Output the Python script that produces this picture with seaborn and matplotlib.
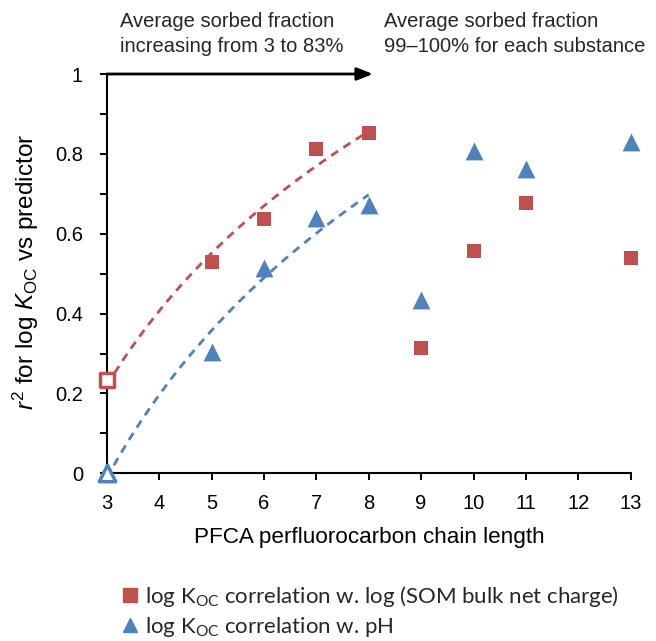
import numpy as np
import pandas as pd
import matplotlib
matplotlib.use("Agg")
import matplotlib.pyplot as plt
import seaborn as sns

# ---- data ----
chain_length = [3, 5, 6, 7, 8, 9, 10, 11, 13]
r2_som_charge = [0.234, 0.528, 0.638, 0.813, 0.853, 0.314, 0.556, 0.678, 0.539]
r2_ph = [0.0, 0.305, 0.515, 0.640, 0.673, 0.435, 0.807, 0.761, 0.830]
trend_max_x = 8           # trend lines fitted on chain lengths 3..8
open_point_x = 3          # marker drawn hollow
x_ticks = [3, 4, 5, 6, 7, 8, 9, 10, 11, 12, 13]
y_ticks = [0, 0.2, 0.4, 0.6, 0.8, 1.0]
y_tick_labels = ["0", "0.2", "0.4", "0.6", "0.8", "1"]
note_left = ["Average sorbed fraction", "increasing from 3 to 83%"]
note_right = ["Average sorbed fraction", "99\u2013100% for each substance"]

RED = "#C0504D"
BLUE = "#4F81BD"

sns.set_theme(style="white")
plt.rcParams["font.family"] = ["Liberation Sans", "DejaVu Sans"]
plt.rcParams["mathtext.fontset"] = "custom"
plt.rcParams["mathtext.rm"] = "Liberation Sans"
plt.rcParams["mathtext.it"] = "Liberation Sans:italic"
plt.rcParams["mathtext.sf"] = "Lato"

df = pd.DataFrame({"x": chain_length, "som": r2_som_charge, "ph": r2_ph})
fit = df[df["x"] <= trend_max_x]
solid = df[df["x"] != open_point_x]
hollow = df[df["x"] == open_point_x]

W, H = 656, 641
fig = plt.figure(figsize=(W / 100, H / 100), dpi=100)
x0, x1, y0, y1 = 106.7, 630.7, 473.3, 74.0
ax = fig.add_axes([x0 / W, 1 - y0 / H, (x1 - x0) / W, (y0 - y1) / H])

# trend lines (log fit)
dash = (0, (3.0, 2.3))
sns.regplot(data=fit, x="x", y="som", logx=True, ci=None, scatter=False, truncate=True,
            ax=ax, line_kws=dict(color=RED, ls=dash, lw=2.0))
sns.regplot(data=fit, x="x", y="ph", logx=True, ci=None, scatter=False, truncate=True,
            ax=ax, line_kws=dict(color=BLUE, ls=dash, lw=2.0))

# points
sns.scatterplot(data=solid, x="x", y="som", marker="s", s=115, color=RED,
                edgecolor=RED, linewidth=0, ax=ax, clip_on=False, zorder=4)
sns.scatterplot(data=solid, x="x", y="ph", marker="^", s=165, color=BLUE,
                edgecolor=BLUE, linewidth=0, ax=ax, clip_on=False, zorder=4)
sns.scatterplot(data=hollow, x="x", y="som", marker="s", s=100, facecolor="white",
                edgecolor=RED, linewidth=2.5, ax=ax, clip_on=False, zorder=5)
sns.scatterplot(data=hollow, x="x", y="ph", marker="^", s=140, facecolor="white",
                edgecolor=BLUE, linewidth=2.5, ax=ax, clip_on=False, zorder=5)

ax.set_xlim(3, 13)
ax.set_ylim(0, 1)
ax.set_xticks(x_ticks)
ax.set_xticklabels([str(v) for v in x_ticks])
ax.set_yticks(y_ticks)
ax.set_yticklabels(y_tick_labels)
ax.set_yticks([0.1, 0.3, 0.5, 0.7, 0.9], minor=True)
ax.tick_params(axis="both", which="both", direction="out", length=5, width=1.4,
               color="black", labelsize=14.5, labelcolor="black")
ax.tick_params(axis="y", which="major", pad=12)
ax.tick_params(axis="x", which="major", pad=10)
ax.tick_params(axis="x", bottom=True)
ax.tick_params(axis="y", which="both", left=True)
for side in ["top", "right"]:
    ax.spines[side].set_visible(False)
for side in ["left", "bottom"]:
    ax.spines[side].set_color("black")
    ax.spines[side].set_linewidth(1.5)

ax.set_xlabel("PFCA perfluorocarbon chain length", fontsize=16.2, color="black")
ax.xaxis.set_label_coords(((193 + 545) / 2 - x0) / (x1 - x0), -(537.5 - y0) / (y0 - y1))
ax.xaxis.label.set_va("center")
ax.set_ylabel(r"$\mathit{r}^2$ for log $\mathit{K}_{\mathrm{OC}}$ vs predictor",
              fontsize=17.5, color="black")
ax.yaxis.set_label_coords(-(x0 - 26) / (x1 - x0), ((y0 - 272) / (y0 - y1)))
ax.yaxis.label.set_va("center")

# arrow along the top
ax.annotate("", xy=(8.08, 1.0), xytext=(3.0, 1.0), xycoords="data",
            arrowprops=dict(arrowstyle="-|>,head_length=0.8,head_width=0.32",
                            color="black", lw=2.0, shrinkA=0, shrinkB=0),
            annotation_clip=False)

for i, (a, b) in enumerate(zip(note_left, note_right)):
    yy = 1 - (21.7 + 25 * i) / H
    fig.text(120 / W, yy, a, fontsize=14.5, va="center", ha="left")
    fig.text(384 / W, yy, b, fontsize=14.5, va="center", ha="left")

# legend
handles = [
    plt.Line2D([], [], marker="s", ls="", color=RED, markersize=9.5),
    plt.Line2D([], [], marker="^", ls="", color=BLUE, markersize=10.5),
]
labels = [
    r"log K$_{\mathsf{OC}}$ correlation w. log (SOM bulk net charge)",
    r"log K$_{\mathsf{OC}}$ correlation w. pH",
]
fig.legend(handles, labels, loc="upper left", bbox_to_anchor=(122 / W, 1 - 584 / H),
           frameon=False, prop={"family": "Lato", "size": 16}, handlelength=0.75,
           handletextpad=0.3, labelspacing=0.28, borderpad=0, borderaxespad=0)

fig.savefig("out.png", dpi=100)
